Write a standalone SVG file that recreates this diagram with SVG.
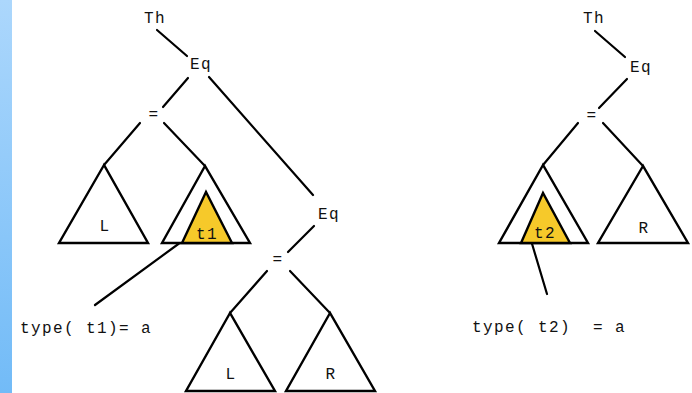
<svg xmlns="http://www.w3.org/2000/svg" width="692" height="393" viewBox="0 0 692 393">
  <defs>
    <linearGradient id="strip" x1="0" y1="0" x2="0" y2="1">
      <stop offset="0" stop-color="#acd7fc"/>
      <stop offset="1" stop-color="#72bbf7"/>
    </linearGradient>
    <style>
      .lbl { font-family: "Courier New", "Liberation Mono", monospace; font-size: 16px; letter-spacing: 1.4px; fill: #111; }
      .edge { stroke: #000; stroke-width: 2.2; fill: none; stroke-linecap: round; }
      .tri { stroke: #000; stroke-width: 2.4; fill: #fff; stroke-linejoin: miter; }
      .sub { stroke: #000; stroke-width: 2.4; fill: #f6c92a; }
    </style>
  </defs>

  <rect width="692" height="393" fill="#fff"/>
  <rect x="0" y="0" width="12" height="393" fill="url(#strip)"/>

  <!-- connectors -->
  <g id="connectors" class="edge">
    <!-- left tree -->
    <line x1="157" y1="30" x2="187" y2="56"/>
    <line x1="188" y1="78" x2="163" y2="107"/>
    <line x1="209" y1="77" x2="313" y2="195"/>
    <line x1="140" y1="123" x2="104" y2="165"/>
    <line x1="164" y1="123" x2="205" y2="166"/>
    <line x1="314" y1="226" x2="288" y2="252"/>
    <line x1="267" y1="271" x2="230" y2="313"/>
    <line x1="290" y1="271" x2="330" y2="313"/>
    <line x1="192" y1="234" x2="95" y2="305"/>
    <!-- right tree -->
    <line x1="595" y1="31" x2="625" y2="57"/>
    <line x1="627" y1="79" x2="599" y2="108"/>
    <line x1="578" y1="123" x2="543" y2="165"/>
    <line x1="603" y1="123" x2="643" y2="166"/>
    <line x1="530" y1="237" x2="547" y2="294"/>
  </g>

  <!-- left tree nodes -->
  <g id="th1"><text class="lbl" x="155" y="23" text-anchor="middle">Th</text></g>
  <g id="eq1"><text class="lbl" x="201" y="69" text-anchor="middle">Eq</text></g>
  <g id="is1"><text class="lbl" x="154" y="119" text-anchor="middle">=</text></g>
  <g id="subtree-l1">
    <polygon class="tri" points="104,165 59,243 148,243"/>
    <text class="lbl" x="105" y="231" text-anchor="middle">L</text>
  </g>
  <g id="subtree-t1">
    <polygon class="tri" points="205,166 162,243 250,243"/>
    <polygon class="sub" points="206,192 182,243 232,243"/>
    <text class="lbl" x="207" y="239" text-anchor="middle">t1</text>
  </g>
  <g id="eq2"><text class="lbl" x="329" y="219" text-anchor="middle">Eq</text></g>
  <g id="is2"><text class="lbl" x="278" y="264" text-anchor="middle">=</text></g>
  <g id="subtree-l2">
    <polygon class="tri" points="230,313 186,391 275,391"/>
    <text class="lbl" x="231" y="379" text-anchor="middle">L</text>
  </g>
  <g id="subtree-r2">
    <polygon class="tri" points="330,313 286,391 375,391"/>
    <text class="lbl" x="331" y="379" text-anchor="middle">R</text>
  </g>
  <g id="type-t1"><text class="lbl" x="20" y="333" xml:space="preserve">type( t1)= a</text></g>

  <!-- right tree nodes -->
  <g id="th2"><text class="lbl" x="594" y="23" text-anchor="middle">Th</text></g>
  <g id="eq3"><text class="lbl" x="641" y="72" text-anchor="middle">Eq</text></g>
  <g id="is3"><text class="lbl" x="592" y="120" text-anchor="middle">=</text></g>
  <g id="subtree-t2">
    <polygon class="tri" points="543,165 499,243 588,243"/>
    <polygon class="sub" points="543,193 521,243 570,243"/>
    <text class="lbl" x="545" y="238" text-anchor="middle">t2</text>
  </g>
  <g id="subtree-r3">
    <polygon class="tri" points="643,166 598,243 688,243"/>
    <text class="lbl" x="644" y="233" text-anchor="middle">R</text>
  </g>
  <g id="type-t2"><text class="lbl" x="472" y="332" xml:space="preserve">type( t2)  = a</text></g>
</svg>
